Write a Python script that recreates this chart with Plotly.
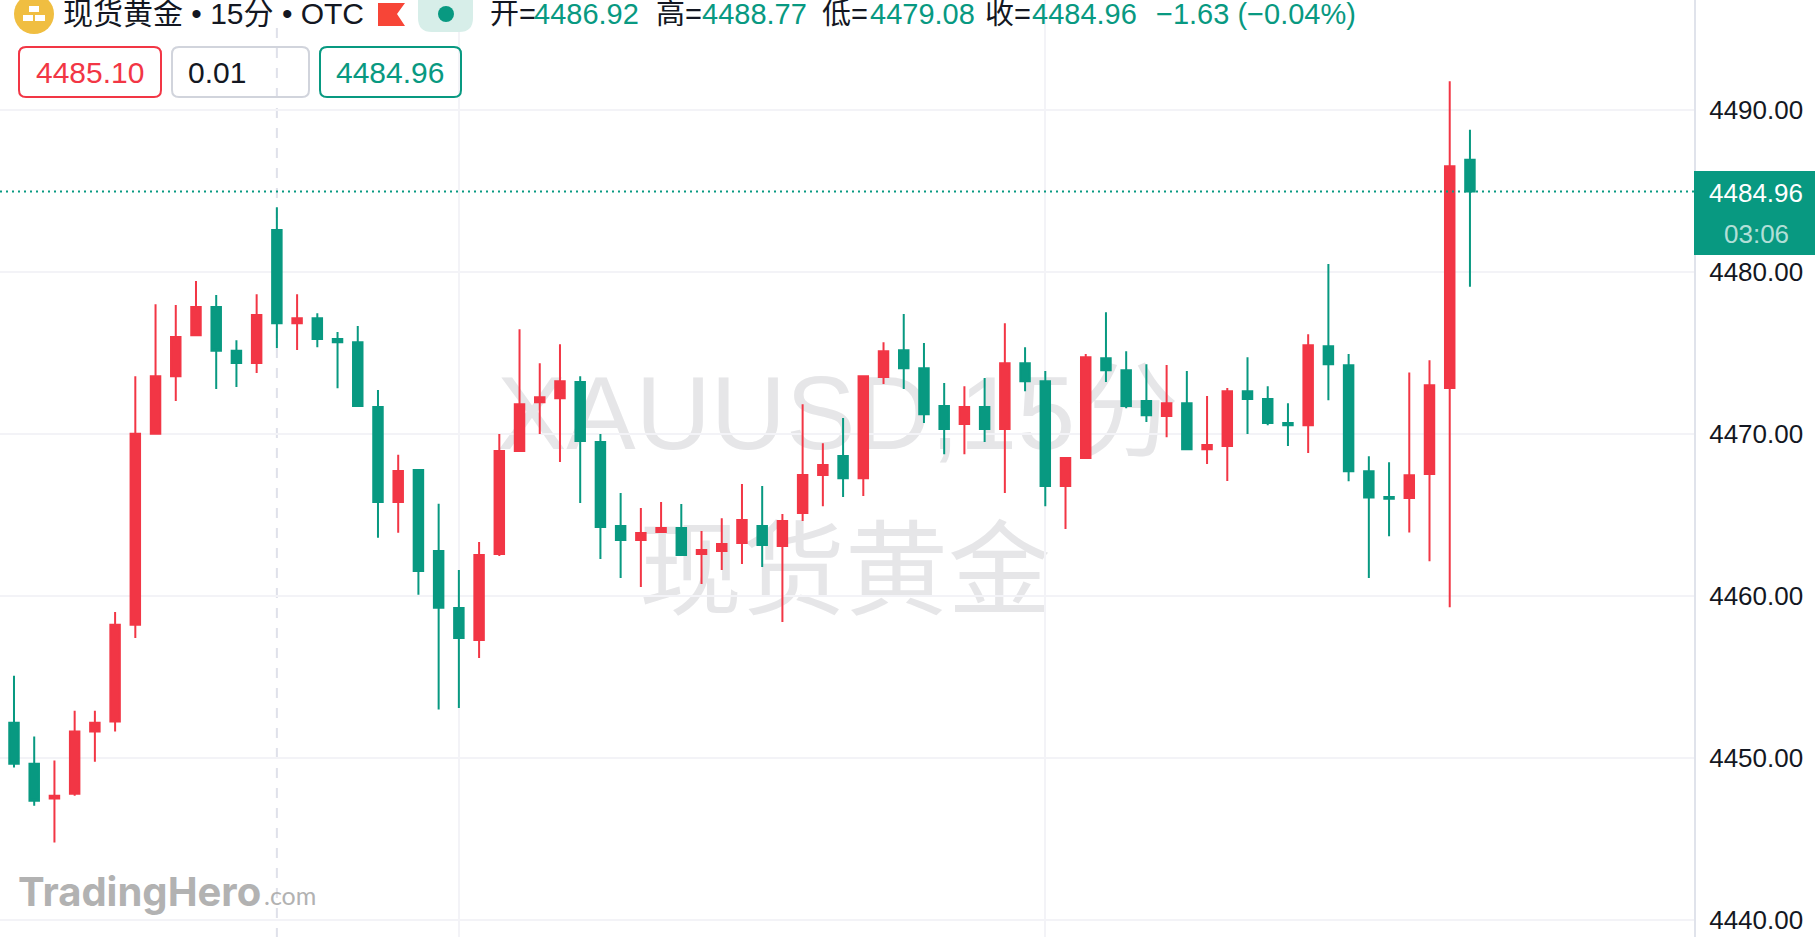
import plotly.graph_objects as go

# ---------- data ----------
opens = [4452.15,4449.62,4447.47,4447.77,4451.61,4452.23,4458.21,4470.00,4473.55,4476.09,
         4477.83,4475.12,4474.37,4482.58,4476.83,4477.14,4475.86,4475.65,4471.66,4465.78,
         4467.77,4462.76,4459.24,4457.26,4462.57,4468.93,4471.95,4472.20,4473.19,4469.49,
         4464.30,4463.44,4463.93,4464.18,4462.57,4462.76,4463.25,4464.30,4463.07,4465.10,
         4467.45,4468.62,4467.26,4473.50,4475.16,4474.05,4471.71,4470.60,4471.65,4470.29,
         4474.36,4473.25,4466.77,4468.50,4474.67,4473.93,4472.02,4471.09,4471.89,4469.05,
         4469.24,4472.63,4472.14,4470.66,4470.53,4475.40,4474.23,4467.68,4466.10,4466.03,
         4467.51,4472.82,4486.92]
highs = [4455.06,4451.30,4449.82,4452.89,4452.89,4459.00,4473.55,4478.00,4477.95,4479.44,
         4478.57,4475.78,4478.62,4483.99,4478.62,4477.44,4476.29,4476.65,4472.71,4468.70,
         4467.77,4465.68,4461.58,4463.31,4469.98,4476.46,4474.36,4475.53,4473.56,4469.98,
         4466.34,4465.41,4465.78,4465.66,4463.99,4464.79,4466.89,4466.77,4465.04,4471.83,
         4469.42,4470.97,4473.56,4475.66,4477.39,4475.60,4473.13,4472.94,4473.44,4476.83,
         4475.35,4473.87,4468.56,4474.92,4477.51,4475.10,4474.30,4474.24,4473.87,4472.33,
         4472.82,4474.73,4472.94,4471.89,4476.15,4480.48,4474.92,4468.61,4468.24,4473.79,
         4474.54,4491.77,4488.77]
lows = [4449.39,4447.03,4444.76,4447.65,4449.74,4451.61,4457.39,4470.00,4472.02,4476.09,
        4472.76,4472.89,4473.76,4475.29,4475.17,4475.35,4472.81,4471.66,4463.58,4463.89,
        4460.05,4452.97,4453.07,4456.15,4462.45,4468.93,4469.98,4468.25,4465.72,4462.26,
        4461.09,4460.53,4463.93,4462.45,4460.72,4461.58,4461.95,4461.77,4458.37,4464.61,
        4465.53,4466.09,4466.15,4473.07,4472.76,4470.66,4468.74,4468.74,4469.49,4466.34,
        4472.63,4465.53,4464.12,4468.44,4473.19,4471.58,4470.72,4469.79,4469.05,4468.13,
        4467.08,4469.98,4470.53,4469.24,4468.81,4472.07,4467.07,4461.09,4463.67,4463.91,
        4462.13,4459.28,4479.08]
closes = [4449.62,4447.34,4447.65,4451.61,4452.15,4458.21,4470.00,4473.55,4475.98,4477.83,
          4475.12,4474.37,4477.34,4476.83,4477.14,4475.86,4475.65,4471.71,4465.78,4467.70,
          4461.53,4459.26,4457.39,4462.51,4468.93,4471.83,4472.26,4473.25,4469.55,4464.24,
          4463.44,4463.87,4464.18,4462.51,4462.82,4463.19,4464.67,4463.13,4464.61,4467.45,
          4468.07,4467.26,4473.56,4475.10,4474.05,4471.21,4470.29,4471.65,4470.29,4474.36,
          4473.25,4466.77,4468.50,4474.73,4473.93,4471.71,4471.15,4471.89,4469.05,4469.30,
          4472.63,4472.14,4470.66,4470.53,4475.47,4474.30,4467.68,4466.07,4465.99,4467.44,
          4473.00,4486.52,4484.96]
price_ticks = [4440, 4450, 4460, 4470, 4480, 4490]
x_grid_bars = [22, 51]
crosshair_bar = 13
last_price = 4484.96
bid, spread, ask = "4485.10", "0.01", "4484.96"

RED = "#F23645"
GREEN = "#089981"
GRID = "#F3F3F7"
AXIS = "#E0E3EB"
FONT = "Liberation Sans, Noto Sans CJK SC, sans-serif"
W, H = 1815, 937
PW = 1694  # plot width in pixels

def fx(p): return p / PW
def fy(p): return 1 - p / H

def rrect(x0, y0, x1, y1, r):
    X0, X1, Y0, Y1 = fx(x0), fx(x1), fy(y0), fy(y1)
    rx, ry = r / PW, r / H
    return (f"M{X0+rx},{Y0} L{X1-rx},{Y0} Q{X1},{Y0} {X1},{Y0-ry} L{X1},{Y1+ry} Q{X1},{Y1} {X1-rx},{Y1} "
            f"L{X0+rx},{Y1} Q{X0},{Y1} {X0},{Y1+ry} L{X0},{Y0-ry} Q{X0},{Y0} {X0+rx},{Y0} Z")

def paper_shape(**kw):
    return dict(xref="paper", yref="paper", **kw)

def box(x0, y0, x1, y1, **kw):
    return paper_shape(type="rect", x0=fx(x0), x1=fx(x1), y0=fy(y1), y1=fy(y0), **kw)

def poly(pts, **kw):
    path = "M" + " L".join(f"{fx(a)},{fy(b)}" for a, b in pts) + " Z"
    return paper_shape(type="path", path=path, **kw)

shapes = [
    # watermark
    box(288, 343, 1388, 463, layer="below", line_width=0,
        label=dict(text="XAUUSD,15分", font=dict(family=FONT, size=104, color="#E6E6E8"),
                   textposition="middle center")),
    box(295, 501, 1395, 621, layer="below", line_width=0,
        label=dict(text="现货黄金", font=dict(family=FONT, size=103, color="#E6E6E8"),
                   textposition="middle center")),
    # crosshair
    dict(type="line", xref="x", yref="paper", x0=crosshair_bar, x1=crosshair_bar, y0=fy(938), y1=fy(28),
         layer="below", line=dict(color="#DFE1EA", width=2, dash="10px,10px")),
    # last price line
    dict(type="line", xref="paper", yref="y", x0=0, x1=1, y0=last_price, y1=last_price,
         layer="above", line=dict(color=GREEN, width=2, dash="2px,4px")),
    # price tag
    box(1694, 171, 1815, 255, fillcolor=GREEN, line_width=0),
    # logo
    paper_shape(type="circle", x0=fx(14), x1=fx(54), y0=fy(34), y1=fy(-6), fillcolor="#F0BE41", line_width=0),
    box(29, 6, 39, 12, fillcolor="#FFFFFF", line_width=0),
    box(23, 15, 33, 21, fillcolor="#FFFFFF", line_width=0),
    box(35, 15, 45, 21, fillcolor="#FFFFFF", line_width=0),
    # flag
    poly([(378, 3), (405, 3), (397, 14), (405, 26), (378, 26)], fillcolor="#F74537", line_width=0),
    # status pill
    paper_shape(type="path", path=rrect(418, -14, 473, 32, 14), fillcolor="#D7EEE9", line_width=0),
    paper_shape(type="circle", x0=fx(438), x1=fx(454), y0=fy(22), y1=fy(6), fillcolor=GREEN, line_width=0),
    # chips
    paper_shape(type="path", path=rrect(19, 47, 161, 97, 7), line=dict(color=RED, width=2)),
    paper_shape(type="path", path=rrect(172, 47, 309, 97, 7), line=dict(color="#D1D4DC", width=2)),
    paper_shape(type="path", path=rrect(320, 47, 461, 97, 7), line=dict(color=GREEN, width=2)),
]

def label(text, x, y, size=29, color="#131722", anchor="left", **kw):
    return dict(text=text, xref="paper", yref="paper", x=fx(x), y=fy(y), xanchor=anchor, yanchor="middle",
                showarrow=False, font=dict(family=kw.pop("family", FONT), size=size, color=color),
                borderpad=0, **kw)

annotations = [
    label("现货黄金 • 15分 • OTC", 62, 14, size=30),
    label("开=", 489, 14), label("4486.92", 533, 14, color=GREEN),
    label("高=", 655, 14), label("4488.77", 701, 14, color=GREEN),
    label("低=", 821, 14), label("4479.08", 869, 14, color=GREEN),
    label("收=", 984, 14), label("4484.96", 1031, 14, color=GREEN),
    label("−1.63 (−0.04%)", 1155, 14, color=GREEN),
    label(bid, 90, 72, size=30, color=RED, anchor="center"),
    label(spread, 187, 72, size=30),
    label(ask, 390, 72, size=30, color=GREEN, anchor="center"),
    label("4484.96", 1756, 193, size=26, color="#FFFFFF", anchor="center"),
    label("03:06", 1756, 234, size=26, color="rgba(255,255,255,0.7)", anchor="center"),
    label("<b>TradingHero</b>", 17, 891, size=40, color="#B2B2B2", family="Inter, Lato, Liberation Sans"),
    label(".com", 263, 895, size=25, color="#B2B2B2", family="Lato, Liberation Sans"),
]

fig = go.Figure(go.Candlestick(
    x=list(range(len(opens))), open=opens, high=highs, low=lows, close=closes,
    increasing=dict(line=dict(color=RED, width=2), fillcolor=RED),
    decreasing=dict(line=dict(color=GREEN, width=2), fillcolor=GREEN),
    whiskerwidth=0, showlegend=False,
))

fig.update_layout(
    width=W, height=H, autosize=False, margin=dict(l=0, r=W - PW, t=0, b=0),
    paper_bgcolor="#FFFFFF", plot_bgcolor="rgba(0,0,0,0)", boxgap=0.33,
    shapes=shapes, annotations=annotations, showlegend=False,
    font=dict(family=FONT, color="#131722"),
    xaxis=dict(range=[-0.692, 83.08], rangeslider=dict(visible=False), tickmode="array", tickvals=x_grid_bars,
               showticklabels=False, ticks="", showgrid=True, gridcolor=GRID, gridwidth=2,
               zeroline=False, showline=False),
    yaxis=dict(side="right", range=[4438.92, 4496.79], tickmode="array", tickvals=price_ticks,
               tickformat=".2f", ticks="", ticklabelstandoff=8, tickfont=dict(family=FONT, size=26, color="#131722"),
               showgrid=True, gridcolor=GRID, gridwidth=2, zeroline=False,
               showline=True, linecolor=AXIS, linewidth=2),
)

fig.write_html("out.html", config=dict(displayModeBar=False),
               post_script="document.body.style.margin='0';document.body.style.overflow='hidden';")
